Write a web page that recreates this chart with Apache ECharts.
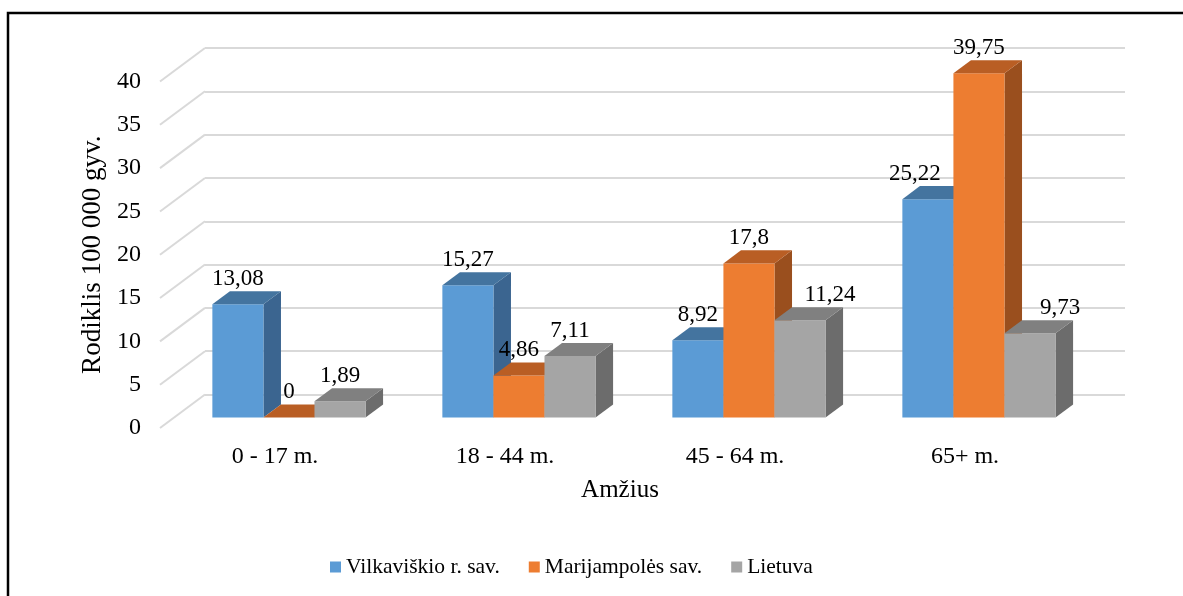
<!DOCTYPE html>
<html>
<head>
<meta charset="utf-8">
<script src="https://cdn.jsdelivr.net/npm/echarts@6/dist/echarts.min.js"></script>
<style>
  html, body { margin: 0; padding: 0; background: #fff; }
  #chart { width: 1183px; height: 596px; }
</style>
</head>
<body>
<div id="chart"></div>
<script>
const categories = ['0 - 17 m.', '18 - 44 m.', '45 - 64 m.', '65+ m.'];
const seriesNames = ['Vilkaviškio r. sav.', 'Marijampolės sav.', 'Lietuva'];
const vilkaviskio = [13.08, 15.27, 8.92, 25.22];
const marijampoles = [0, 4.86, 17.8, 39.75];
const lietuva = [1.89, 7.11, 11.24, 9.73];
const yTicks = [0, 5, 10, 15, 20, 25, 30, 35, 40];

const allValues = [vilkaviskio, marijampoles, lietuva];

// colours per series: front, top, side
const palette = [
  { front: '#5b9bd5', top: '#44749f', side: '#3b6590' },
  { front: '#ed7d31', top: '#b95e24', side: '#9a4f1e' },
  { front: '#a5a5a5', top: '#808080', side: '#6c6c6c' }
];

const FONT = '"Liberation Serif", "Times New Roman", serif';
// floor depth (front edge -> back wall)
const DEPTH_X = 45, DEPTH_Y = 33.5;
const PLANE = 0.31;      // bars stand this far into the floor
const BAR_DEPTH = 0.39;  // thickness of a bar in floor units
const BAR_RATIO = 0.222; // bar width / category width

function barItem(s) {
  return function (params, api) {
    const cat = api.value(0);
    const v = api.value(1);
    const base = api.coord([cat, 0]);
    const topPt = api.coord([cat, v]);
    const band = api.size([1, 0])[0];
    const w = band * BAR_RATIO;
    const px = DEPTH_X * PLANE, py = DEPTH_Y * PLANE;
    const dx = DEPTH_X * BAR_DEPTH, dy = DEPTH_Y * BAR_DEPTH;
    const x0 = base[0] - 1.5 * w + s * w + px;
    const y0 = base[1] - py;
    const yt = topPt[1] - py;
    const c = palette[s];

    // move the label off a taller neighbour, like Excel does
    let shift = 0;
    const left = s > 0 ? allValues[s - 1][cat] : -1;
    const right = s < 2 ? allValues[s + 1][cat] : -1;
    if (s === 2 && left > v) shift = 30;
    else if (s === 0 && right > v + 10) shift = -13;

    return {
      type: 'group',
      children: [
        {
          type: 'polygon',
          shape: { points: [[x0 + w, yt], [x0 + w + dx, yt - dy], [x0 + w + dx, y0 - dy], [x0 + w, y0]] },
          style: { fill: c.side }
        },
        {
          type: 'rect',
          shape: { x: x0, y: yt, width: w, height: y0 - yt },
          style: { fill: c.front }
        },
        {
          type: 'polygon',
          shape: { points: [[x0, yt], [x0 + w, yt], [x0 + w + dx, yt - dy], [x0 + dx, yt - dy]] },
          style: { fill: c.top }
        },
        {
          type: 'text',
          x: x0 + w / 2 + shift,
          y: yt - dy - 1,
          z2: 100,
          style: {
            text: String(v).replace('.', ','),
            fill: '#000',
            font: '23px ' + FONT,
            align: 'center',
            verticalAlign: 'bottom'
          }
        }
      ]
    };
  };
}

const chart = echarts.init(document.getElementById('chart'));

const series = seriesNames.map((name, s) => ({
  name: name,
  type: 'custom',
  xAxisIndex: 1,
  yAxisIndex: 1,
  itemStyle: { color: palette[s].front },
  renderItem: barItem(s),
  data: allValues[s].map((v, i) => [i, v]),
  z: 5
}));

// diagonal floor/wall lines from the front axis to the back wall
series.unshift({
  type: 'custom',
  xAxisIndex: 1,
  yAxisIndex: 1,
  silent: true,
  renderItem: function (params, api) {
    const p = api.coord([0, api.value(1)]);
    const x = params.coordSys.x;
    return {
      type: 'line',
      shape: { x1: x, y1: p[1], x2: x + DEPTH_X, y2: p[1] - DEPTH_Y },
      style: { stroke: '#d9d9d9', lineWidth: 2 }
    };
  },
  data: yTicks.map(v => [0, v]),
  z: 1
});

const option = {
  backgroundColor: '#fff',
  animation: false,
  textStyle: { fontFamily: FONT, color: '#000' },
  graphic: [{
    type: 'rect',
    shape: { x: 8, y: 13, width: 1200, height: 620 },
    style: { fill: 'none', stroke: '#000', lineWidth: 2.5 },
    z: 100
  }],
  legend: {
    data: seriesNames,
    left: 330,
    top: 556,
    padding: 0,
    icon: 'rect',
    itemWidth: 11,
    itemHeight: 11,
    itemGap: 29,
    textStyle: { fontFamily: FONT, fontSize: 21.5, color: '#000' }
  },
  grid: [
    { left: 205, top: 48, width: 920, height: 346.5 },
    { left: 160, top: 81.5, width: 920, height: 346.5 }
  ],
  xAxis: [
    { type: 'category', gridIndex: 0, data: categories, show: false },
    {
      type: 'category',
      gridIndex: 1,
      data: categories,
      axisLine: { show: false },
      axisTick: { show: false },
      axisLabel: { fontFamily: FONT, fontSize: 24, color: '#000', margin: 17 },
      name: 'Amžius',
      nameLocation: 'middle',
      nameGap: 50,
      nameTextStyle: { fontFamily: FONT, fontSize: 25, color: '#000' }
    }
  ],
  yAxis: [
    {
      type: 'value',
      gridIndex: 0,
      min: 0,
      max: 40,
      interval: 5,
      axisLine: { show: false },
      axisTick: { show: false },
      axisLabel: { show: false },
      splitLine: { lineStyle: { color: '#d9d9d9', width: 2 } }
    },
    {
      type: 'value',
      gridIndex: 1,
      min: 0,
      max: 40,
      interval: 5,
      axisLine: { show: false },
      axisTick: { show: false },
      splitLine: { show: false },
      axisLabel: { fontFamily: FONT, fontSize: 24, color: '#000', margin: 19 },
      name: 'Rodiklis 100 000 gyv.',
      nameLocation: 'middle',
      nameGap: 52,
      nameTextStyle: { fontFamily: FONT, fontSize: 27, color: '#000' }
    }
  ],
  series: series
};

chart.setOption(option);
</script>
</body>
</html>
